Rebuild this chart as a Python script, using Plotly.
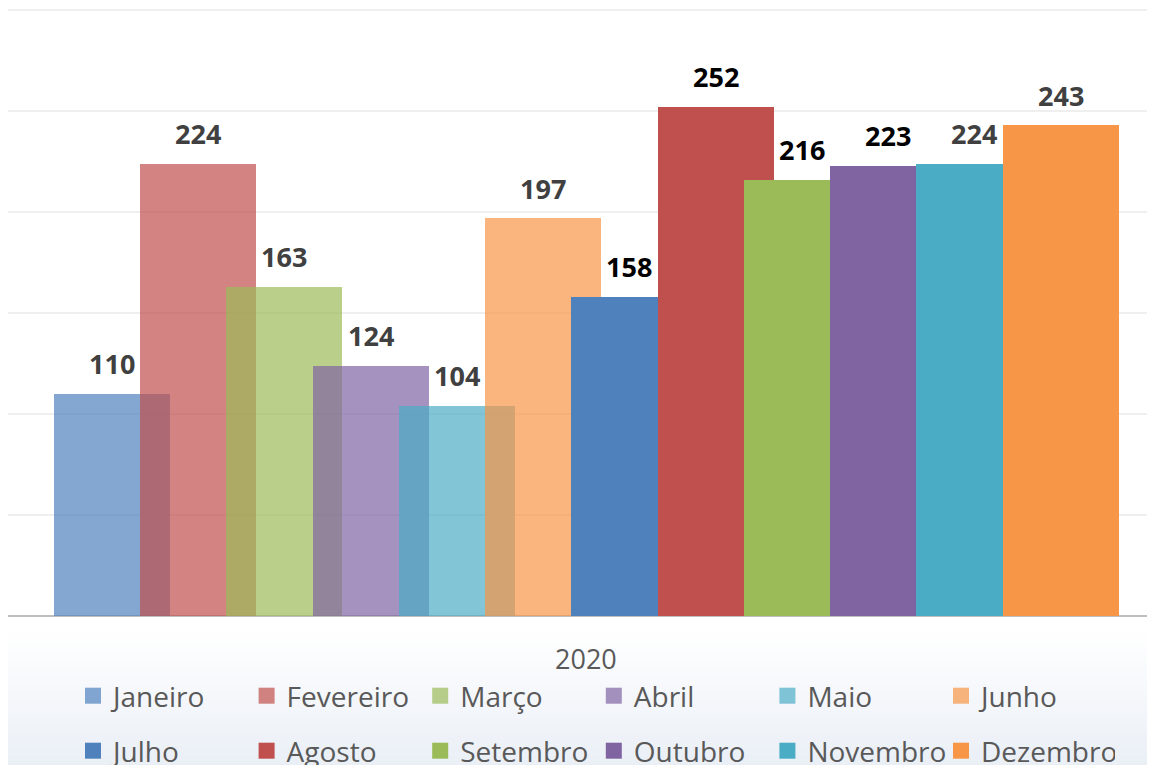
import plotly.graph_objects as go

months = ["Janeiro", "Fevereiro", "Março", "Abril", "Maio", "Junho",
          "Julho", "Agosto", "Setembro", "Outubro", "Novembro", "Dezembro"]
values = [110, 224, 163, 124, 104, 197, 158, 252, 216, 223, 224, 243]
year_label = "2020"
y_ticks = [0, 50, 100, 150, 200, 250, 300]

base_colors = ["#4F81BD", "#C0504D", "#9BBB59", "#8064A2", "#4BACC6", "#F79646"]
alphas = [0.7] * 6 + [1.0] * 6
label_colors = ["#404040"] * 6 + ["#000000"] * 4 + ["#404040"] * 2

# page body has an 8px margin; figure sized to fit the 1155x765 window
OFF = 8
W, H = 1155 - OFF, 765 - OFF
ML, MR, MT, MB = 0, 0, 0, 149
plot_w = W - ML - MR
plot_h = H - MT - MB
BASE = OFF + H - MB  # screenshot y of plot bottom


def rgba(hexc, a):
    h = hexc.lstrip("#")
    r, g, b = int(h[0:2], 16), int(h[2:4], 16), int(h[4:6], 16)
    return f"rgba({r},{g},{b},{a})"


def py(screen_y):
    return (BASE - screen_y) / plot_h


def px(screen_x):
    return (screen_x - OFF - ML) / plot_w


fig = go.Figure()
bar_width = 1.345
for i, (m, v) in enumerate(zip(months, values)):
    col = base_colors[i % 6]
    fig.add_trace(go.Bar(
        x=[i], y=[v], width=bar_width,
        marker=dict(color=rgba(col, alphas[i]), line=dict(width=0)),
        showlegend=False, name=m, hoverinfo="skip",
    ))

# legend proxies (larger square symbols)
for i, m in enumerate(months):
    col = base_colors[i % 6]
    fig.add_trace(go.Scatter(
        x=[None], y=[None], mode="markers", name=m,
        marker=dict(symbol="square", size=16, color=rgba(col, alphas[i])),
        legend="legend" if i < 6 else "legend2",
    ))

annotations = []
for i, v in enumerate(values):
    annotations.append(dict(
        x=i, y=v, xref="x", yref="y", text=str(v), showarrow=False,
        yanchor="middle", xanchor="center", yshift=30,
        font=dict(family="Open Sans", size=27, color=label_colors[i], weight="bold"),
    ))
annotations.append(dict(
    x=px(586), y=py(658), xref="paper", yref="paper",
    text=year_label, showarrow=False, xanchor="center", yanchor="middle",
    font=dict(family="Open Sans", size=27, color="#595959"),
))

# soft background gradient near the bottom
shapes = []
n_bands = 40
g_top, g_bot = 630, 766
c0 = (255, 255, 255)
c1 = (234, 239, 246)
for k in range(n_bands):
    y0s = g_top + (g_bot - g_top) * k / n_bands
    y1s = g_top + (g_bot - g_top) * (k + 1) / n_bands + 0.5
    t = (k + 0.5) / n_bands
    c = tuple(round(c0[j] + (c1[j] - c0[j]) * t) for j in range(3))
    shapes.append(dict(
        type="rect", xref="paper", yref="paper", layer="below",
        x0=-0.01, x1=1.01, y0=py(y1s), y1=py(y0s),
        fillcolor=f"rgb{c}", line=dict(width=0),
    ))

px_per_unit = 86.23
x0 = -(112 - OFF - ML) / px_per_unit
x1 = x0 + plot_w / px_per_unit

legend_common = dict(
    orientation="h", xanchor="left", yanchor="middle",
    font=dict(family="Open Sans", size=28, color="#595959"),
    entrywidth=128.6, entrywidthmode="pixels",
    bgcolor="rgba(0,0,0,0)", itemclick=False, itemdoubleclick=False,
)

fig.update_layout(
    width=W, height=H,
    margin=dict(l=ML, r=MR, t=MT, b=MB, autoexpand=False),
    paper_bgcolor="white", plot_bgcolor="white",
    barmode="overlay", bargap=0,
    xaxis=dict(range=[x0, x1], showticklabels=False, showgrid=False, zeroline=False,
               showline=False, ticks=""),
    yaxis=dict(range=[0, 301], tickvals=y_ticks, showticklabels=False,
               showgrid=True, gridcolor="#EFEFEF", gridwidth=2,
               zeroline=True, zerolinecolor="#BFBFBF", zerolinewidth=2,
               showline=False, ticks=""),
    legend=dict(x=px(73), y=py(696), **legend_common),
    legend2=dict(x=px(73), y=py(751), **legend_common),
    annotations=annotations,
    shapes=shapes,
    font=dict(family="Open Sans"),
)

fig.write_html("out.html")
